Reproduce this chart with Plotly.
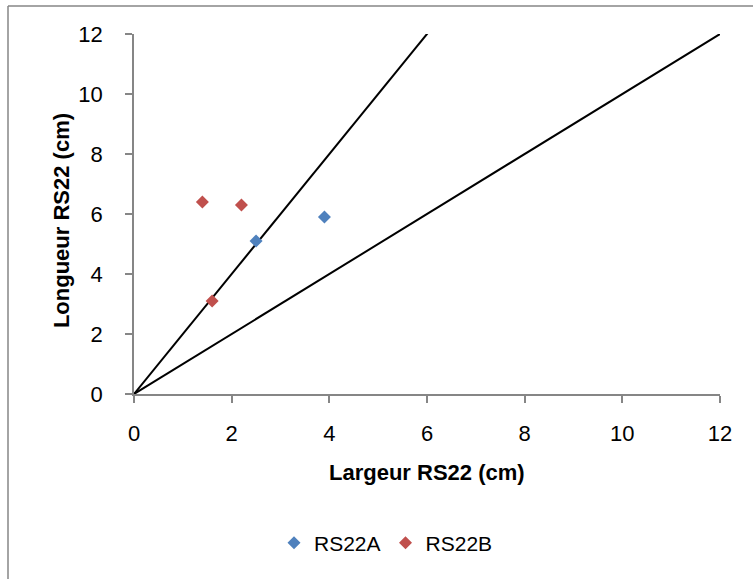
import plotly.graph_objects as go

# Measured samples (width, length in cm)
rs22a_largeur = [2.5, 3.9]
rs22a_longueur = [5.1, 5.9]
rs22b_largeur = [1.4, 2.2, 1.6]
rs22b_longueur = [6.4, 6.3, 3.1]

# Reference lines: longueur = 2 x largeur and longueur = largeur
ref_steep_x = [0, 6.03]
ref_steep_y = [0, 12.06]
ref_unit_x = [0, 12]
ref_unit_y = [0, 12]

tick_vals = [0, 2, 4, 6, 8, 10, 12]

FONT = "Liberation Sans, Arial, sans-serif"
AXIS_GREY = "#868686"

fig = go.Figure()

fig.add_trace(go.Scatter(x=ref_steep_x, y=ref_steep_y, mode="lines",
                         line=dict(color="black", width=2),
                         showlegend=False, hoverinfo="skip", cliponaxis=False))
fig.add_trace(go.Scatter(x=ref_unit_x, y=ref_unit_y, mode="lines",
                         line=dict(color="black", width=2),
                         showlegend=False, hoverinfo="skip", cliponaxis=False))

fig.add_trace(go.Scatter(x=rs22a_largeur, y=rs22a_longueur, mode="markers",
                         name="RS22A",
                         marker=dict(symbol="diamond", size=10, color="#4F81BD")))
fig.add_trace(go.Scatter(x=rs22b_largeur, y=rs22b_longueur, mode="markers",
                         name="RS22B",
                         marker=dict(symbol="diamond", size=10, color="#C0504D")))

axis_common = dict(
    range=[0, 12], tickvals=tick_vals, showgrid=False, zeroline=False,
    showline=True, linecolor=AXIS_GREY, linewidth=1.5,
    ticks="outside", ticklen=7, tickwidth=1.5, tickcolor=AXIS_GREY,
    tickfont=dict(family=FONT, size=22, color="black"),
)

frame_left = (8 - 134) / 586
frame_right = (753 - 134) / 586
frame_top = 1 + (34 - 6) / 360
frame_bottom = -(579 - 394) / 360

fig.update_layout(
    width=753, height=579,
    margin=dict(l=134, r=33, t=34, b=185),
    paper_bgcolor="white", plot_bgcolor="white",
    xaxis=dict(**axis_common, ticklabelstandoff=12),
    yaxis=dict(**axis_common, ticklabelstandoff=18),
    showlegend=True,
    legend=dict(orientation="h", x=0.43, xanchor="center",
                y=-0.414, yanchor="middle",
                font=dict(family=FONT, size=21, color="black"),
                bgcolor="rgba(0,0,0,0)"),
    annotations=[
        dict(text="<b>Largeur RS22 (cm)</b>", xref="paper", yref="paper",
             x=0.5, y=-0.2167, xanchor="center", yanchor="middle",
             showarrow=False, font=dict(family=FONT, size=22, color="black")),
        dict(text="<b>Longueur RS22 (cm)</b>", xref="paper", yref="paper",
             x=-0.1246, y=0.483, xanchor="center", yanchor="middle",
             textangle=-90, showarrow=False,
             font=dict(family=FONT, size=22, color="black")),
    ],
    shapes=[
        # chart frame: left and top edges
        dict(type="line", xref="paper", yref="paper",
             x0=frame_left, x1=frame_left, y0=frame_bottom, y1=frame_top,
             line=dict(color=AXIS_GREY, width=1.5), layer="below"),
        dict(type="line", xref="paper", yref="paper",
             x0=frame_left, x1=frame_right, y0=frame_top, y1=frame_top,
             line=dict(color=AXIS_GREY, width=1.5), layer="below"),
    ],
)

fig.write_html("out.html")
